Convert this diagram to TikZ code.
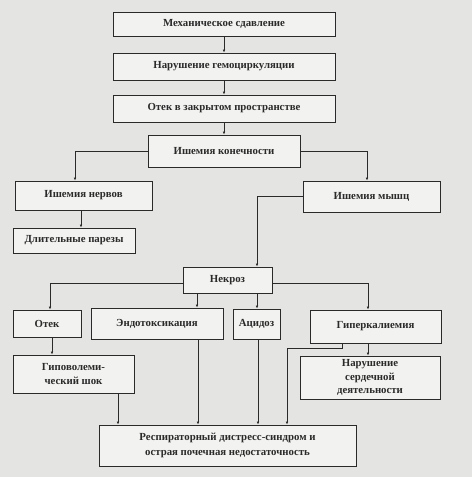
\documentclass[tikz,border=0pt]{standalone}
\usepackage{fontspec}
\setmainfont{Liberation Serif}
\usepackage{xcolor}
\usetikzlibrary{arrows.meta,positioning}

\definecolor{paper}{HTML}{E4E4E2}
\definecolor{boxfill}{HTML}{F2F2F0}
\definecolor{ink}{HTML}{2A2A2A}

\begin{document}
\begin{tikzpicture}[
  x=1pt,y=-1pt,
  sbox/.style={rectangle,draw=ink,line width=0.8pt,fill=boxfill,inner sep=1pt,
               font=\bfseries\fontsize{10.8}{13.5}\selectfont,text=ink,align=center},
  arr/.style={-{Latex[length=3pt,width=2.6pt]},draw=ink,line width=0.6pt}
]
  \fill[paper] (0,0) rectangle (472,477);
  \useasboundingbox (0,0) rectangle (472,477);

  % top chain
  \node[sbox,minimum width=222pt,minimum height=24pt] (mech) at (224,24) {Механическое сдавление};
  \node[sbox,minimum width=222pt,minimum height=27pt] (gemo) at (224,66.5) {Нарушение гемоциркуляции};
  \node[sbox,minimum width=222pt,minimum height=27pt] (otekz) at (224,108.5) {Отек в закрытом пространстве};
  \node[sbox,minimum width=152pt,minimum height=32pt] (ishkon) at (224,151) {Ишемия конечности};

  % second level
  \node[sbox,minimum width=137pt,minimum height=29pt] (ishnerv) at (83.5,195.5) {Ишемия нервов};
  \node[sbox,minimum width=137pt,minimum height=31pt] (ishmysh) at (371.5,196.5) {Ишемия мышц};
  \node[sbox,minimum width=122pt,minimum height=25pt] (parez) at (74,240.5) {Длительные парезы};
  \node[sbox,minimum width=89pt,minimum height=26pt] (nekroz) at (227.5,280) {Некроз};

  % third level
  \node[sbox,minimum width=68pt,minimum height=27pt] (otek) at (47,323.5) {Отек};
  \node[sbox,minimum width=132pt,minimum height=31pt] (endo) at (157,323.5) {Эндотоксикация};
  \node[sbox,minimum width=47pt,minimum height=30pt] (acid) at (256.5,324) {Ацидоз};
  \node[sbox,minimum width=131pt,minimum height=33pt] (giperk) at (375.5,326.5) {Гиперкалиемия};

  \node[sbox,minimum width=121pt,minimum height=38pt] (gipovol) at (73.5,374) {Гиповолеми-\\ческий шок};
  \node[sbox,minimum width=140pt,minimum height=43pt] (serd) at (370,377.5) {Нарушение\\сердечной\\деятельности};
  \node[sbox,minimum width=257pt,minimum height=41pt,font=\bfseries\fontsize{10.8}{15.5}\selectfont] (resp) at (227.5,445.5)
    {Респираторный дистресс-синдром и\\острая почечная недостаточность};

  \draw[arr] (mech) -- (gemo);
  \draw[arr] (gemo) -- (otekz);
  \draw[arr] (otekz) -- (ishkon);
  \draw[arr] (ishkon.west) -| ([xshift=-8.5pt]ishnerv.north);
  \draw[arr] (ishkon.east) -| ([xshift=-4.5pt]ishmysh.north);
  \draw[arr] ([xshift=-2.5pt]ishnerv.south) -- ([xshift=7pt]parez.north);
  \draw[arr] (ishmysh.west) -| ([xshift=29.5pt]nekroz.north);

  \draw[arr] ([yshift=-3pt]nekroz.west) -| ([xshift=3pt]otek.north);
  \draw[arr] ([yshift=-3pt]nekroz.east) -| ([xshift=-7.5pt]giperk.north);
  \draw[arr] ([xshift=-30.5pt]nekroz.south) -- ([xshift=-30.5pt]nekroz.south |- endo.north);
  \draw[arr] ([xshift=29.5pt]nekroz.south) -- ([xshift=29.5pt]nekroz.south |- acid.north);

  \draw[arr] ([xshift=5pt]otek.south) -- ([xshift=5pt]otek.south |- gipovol.north);
  \draw[arr] ([xshift=-7.5pt]giperk.south) -- ([xshift=-7.5pt]giperk.south |- serd.north);
  \draw[arr] ([xshift=-33.5pt]giperk.south) -- ++(0,5) -| ([xshift=59.5pt]resp.north);
  \draw[arr] ([xshift=44.5pt]gipovol.south) -- ([xshift=44.5pt]gipovol.south |- resp.north);
  \draw[arr] ([xshift=41pt]endo.south) -- ([xshift=41pt]endo.south |- resp.north);
  \draw[arr] ([xshift=1.5pt]acid.south) -- ([xshift=1.5pt]acid.south |- resp.north);
\end{tikzpicture}
\end{document}
